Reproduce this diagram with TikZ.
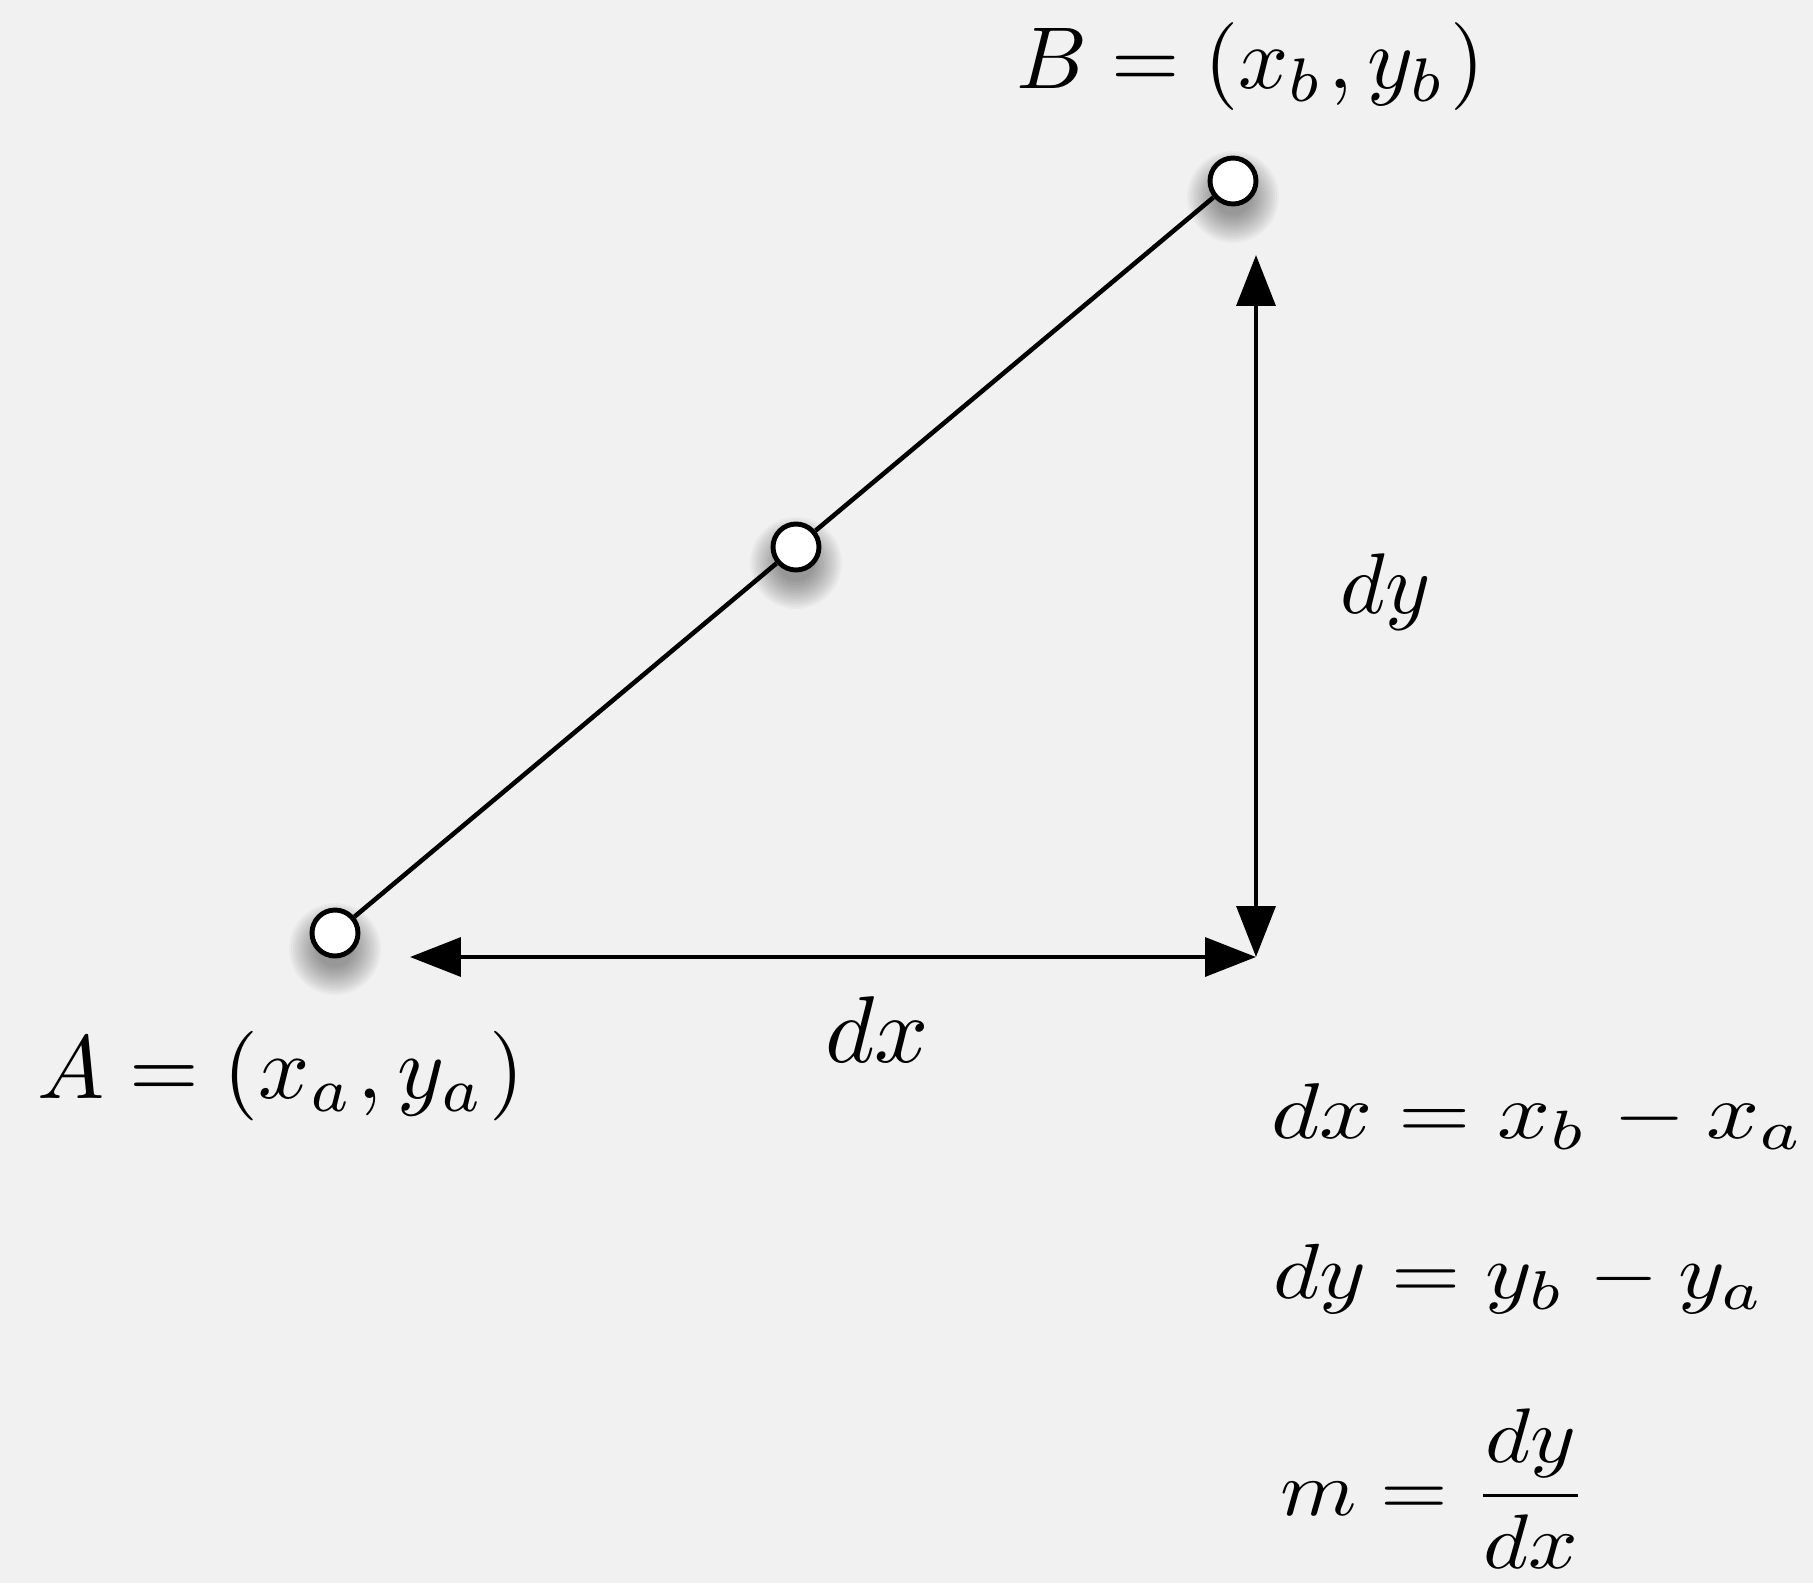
\documentclass[tikz,border=0pt]{standalone}
\usetikzlibrary{arrows.meta}
\definecolor{bg}{RGB}{241,241,241}
\newcommand{\bigmath}[3]{\scalebox{#1}[#2]{\scriptspace=1pt$#3$}}
\begin{document}
\begin{tikzpicture}[x=0.02cm,y=-0.02cm,
  dot/.style={circle, draw=black, fill=white, line width=2.8pt, minimum size=0.92cm, inner sep=0pt},
  seg/.style={line width=2.6pt},
  dim/.style={line width=2.6pt, {Triangle[length=29pt,width=22pt]}-{Triangle[length=29pt,width=22pt]}},
  lbl/.style={inner sep=0pt, anchor=base west}]
\fill[bg] (0,0) rectangle (1813,1583);
\useasboundingbox (0,0) rectangle (1813,1583);
\coordinate (pA) at (335,933);
\coordinate (pM) at (796,547);
\coordinate (pB) at (1233,181);
\foreach \c in {pA,pM,pB}{
  \foreach \r in {46,44,...,18}{
    \fill[black, opacity=0.028] ([yshift=-0.32cm]\c) circle (\r);
  }
}
\coordinate (C) at (1256,957);
\coordinate (T) at (1256,255);
\coordinate (L) at (410,957);
\node[dot] (A) at (pA) {};
\node[dot] (M) at (pM) {};
\node[dot] (B) at (pB) {};
\draw[seg] (A) -- (M);
\draw[seg] (M) -- (B);
\draw[dim] (T) -- (C);
\draw[dim] (L) -- (C);
\node[lbl] (lB) at (1016,88) {\bigmath{5.0}{5.0}{B=(x_b,y_b)}};
\node[lbl] (lA) at (37,1098) {\bigmath{5.1}{5.1}{A=(x_a,y_a)}};
\node[lbl] (ldx) at (825,1062) {\bigmath{5.4}{5.4}{dx}};
\node[lbl] (ldy) at (1340,613) {\bigmath{4.9}{4.9}{dy}};
\node[lbl] (e1) at (1271,1138) {\bigmath{5.3}{4.5}{dx = x_b - x_a}};
\node[lbl] (e2) at (1273,1298) {\bigmath{5.07}{4.45}{dy = y_b - y_a}};
\node[lbl] (e3) at (1280,1515) {\bigmath{4.95}{4.4}{\displaystyle m = \frac{dy}{dx}}};
\end{tikzpicture}
\end{document}
